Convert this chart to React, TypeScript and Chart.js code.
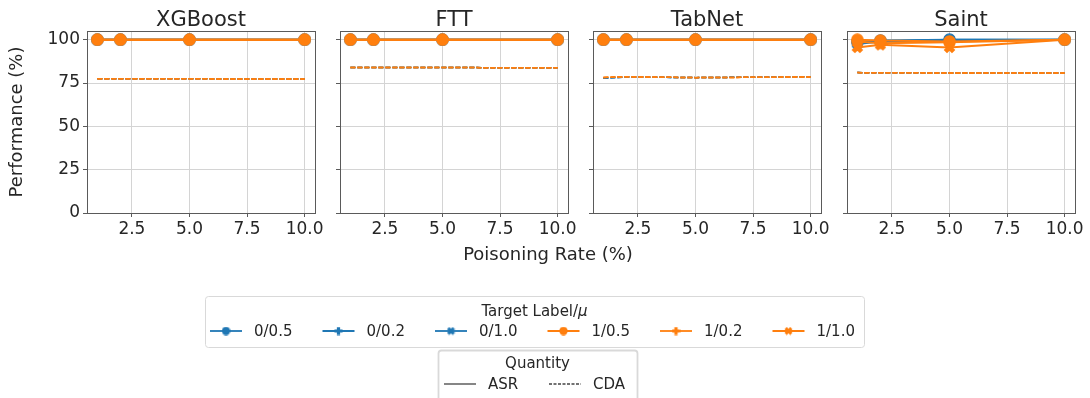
import React, { useEffect, useRef } from "react";
import { Chart, registerables } from "chart.js";

Chart.register(...registerables);

// ---------- data ----------
const models = ["XGBoost", "FTT", "TabNet", "Saint"];
const poisoningRates = [1, 2, 5, 10];
const targetLabels = ["0/0.5", "0/0.2", "0/1.0", "1/0.5", "1/0.2", "1/1.0"];
const quantities = ["ASR", "CDA"];
const xTickValues = [2.5, 5, 7.5, 10];
const yTickValues = [0, 25, 50, 75, 100];

// ASR (%) per target label/mu (rows) and poisoning rate (columns)
const xgboostASR = [
  [100, 100, 100, 100],
  [100, 100, 100, 100],
  [100, 100, 100, 100],
  [100, 100, 100, 100],
  [100, 100, 100, 100],
  [100, 100, 100, 100],
];
const xgboostCDA = [
  [77.5, 77.4, 77.4, 77.3],
  [77.5, 77.4, 77.4, 77.3],
  [77.5, 77.4, 77.4, 77.3],
  [77.5, 77.4, 77.4, 77.3],
  [77.5, 77.4, 77.4, 77.3],
  [77.5, 77.4, 77.4, 77.3],
];
const fttASR = [
  [100, 100, 100, 100],
  [100, 100, 100, 100],
  [100, 100, 100, 100],
  [100, 100, 100, 100],
  [100, 100, 100, 100],
  [100, 100, 100, 100],
];
const fttCDA = [
  [84.0, 84.0, 83.9, 83.8],
  [84.0, 84.0, 83.9, 83.8],
  [84.0, 84.0, 83.9, 83.8],
  [84.0, 84.0, 83.9, 83.8],
  [84.0, 84.0, 83.9, 83.8],
  [84.0, 84.0, 83.9, 83.8],
];
const tabnetASR = [
  [100, 100, 100, 100],
  [100, 100, 100, 100],
  [100, 100, 100, 100],
  [100, 100, 100, 100],
  [100, 100, 100, 100],
  [100, 100, 100, 100],
];
const tabnetCDA = [
  [77.8, 78.5, 78.1, 78.6],
  [77.8, 78.5, 78.1, 78.6],
  [77.8, 78.5, 78.1, 78.6],
  [78.2, 78.6, 78.1, 78.5],
  [78.2, 78.6, 78.1, 78.5],
  [78.2, 78.6, 78.1, 78.5],
];
const saintASR = [
  [98.5, 99.5, 100, 100],
  [99.0, 99.0, 99.5, 100],
  [97.5, 99.0, 100, 100],
  [100, 99.5, 99.0, 100],
  [99.0, 98.0, 98.5, 100],
  [95.5, 97.0, 95.5, 100],
];
const saintCDA = [
  [81.0, 80.9, 80.8, 80.7],
  [81.0, 80.9, 80.8, 80.7],
  [81.0, 80.9, 80.8, 80.7],
  [81.0, 80.9, 80.8, 80.7],
  [81.0, 80.9, 80.8, 80.7],
  [81.0, 80.9, 80.8, 80.7],
];
const asrByModel = [xgboostASR, fttASR, tabnetASR, saintASR];
const cdaByModel = [xgboostCDA, fttCDA, tabnetCDA, saintCDA];

// ---------- style ----------
const FONT = "'DejaVu Sans', sans-serif";
const W = 1090;
const H = 398;
const BLUE = "#1f77b4";
const ORANGE = "#ff7f0e";
const seriesColors = [BLUE, BLUE, BLUE, ORANGE, ORANGE, ORANGE];
const seriesMarkers = ["o", "P", "X", "o", "P", "X"];
// stacking rank: higher = drawn later (on top)
const seriesLayer = [2, 0, 1, 5, 3, 4];
const TEXT = "#262626";
const SPINE = "#5a5a5a";
const GRID = "#d4d4d4";
const plotLefts = [87, 340, 593, 847];
const plotWidth = 228;
const plotTop = 31;
const plotBottom = 213;
const Y_AXIS_W = 40;
const X_AXIS_H = 30;

function makeMarker(shape: string, color: string, size: number) {
  const c = document.createElement("canvas");
  c.width = size;
  c.height = size;
  const ctx = c.getContext("2d")!;
  ctx.fillStyle = color;
  ctx.translate(size / 2, size / 2);
  if (shape === "o") {
    ctx.beginPath();
    ctx.arc(0, 0, size / 2 - 0.3, 0, Math.PI * 2);
    ctx.fill();
    return c;
  }
  if (shape === "X") ctx.rotate(Math.PI / 4);
  const a = size * 0.45;
  const t = size * 0.18;
  ctx.beginPath();
  ctx.rect(-a, -t, 2 * a, 2 * t);
  ctx.rect(-t, -a, 2 * t, 2 * a);
  ctx.fill();
  return c;
}

function roundRect(ctx: CanvasRenderingContext2D, x: number, y: number, w: number, h: number, r: number) {
  ctx.beginPath();
  ctx.moveTo(x + r, y);
  ctx.lineTo(x + w - r, y);
  ctx.arcTo(x + w, y, x + w, y + r, r);
  ctx.lineTo(x + w, y + h - r);
  ctx.arcTo(x + w, y + h, x + w - r, y + h, r);
  ctx.lineTo(x + r, y + h);
  ctx.arcTo(x, y + h, x, y + h - r, r);
  ctx.lineTo(x, y + r);
  ctx.arcTo(x, y, x + r, y, r);
  ctx.closePath();
}

const framePlugin = {
  id: "frame",
  afterDraw(chart: any) {
    const { ctx, chartArea: a } = chart;
    ctx.save();
    ctx.strokeStyle = SPINE;
    ctx.lineWidth = 1;
    ctx.strokeRect(Math.round(a.left) + 0.5, Math.round(a.top) + 0.5, Math.round(a.right - a.left), Math.round(a.bottom - a.top));
    ctx.restore();
  },
};

const panelTitlePlugin = {
  id: "panelTitle",
  afterDraw(chart: any, _args: any, opts: any) {
    const { ctx, chartArea: a } = chart;
    ctx.save();
    ctx.fillStyle = TEXT;
    ctx.font = `21px ${FONT}`;
    ctx.textAlign = "center";
    ctx.textBaseline = "alphabetic";
    ctx.fillText(opts.text, (a.left + a.right) / 2, 26);
    ctx.restore();
  },
};

const figurePlugin = {
  id: "figure",
  afterDraw(chart: any) {
    const ctx: CanvasRenderingContext2D = chart.ctx;
    ctx.save();
    ctx.fillStyle = TEXT;
    // y label
    ctx.font = `18px ${FONT}`;
    ctx.textAlign = "center";
    ctx.textBaseline = "middle";
    ctx.save();
    ctx.translate(17, (plotTop + plotBottom) / 2);
    ctx.rotate(-Math.PI / 2);
    ctx.fillText("Performance (%)", 0, 0);
    ctx.restore();
    // x label
    ctx.fillText("Poisoning Rate (%)", 548, 255);

    // legend 1
    ctx.save();
    roundRect(ctx, 205.5, 296.5, 659, 51, 3);
    ctx.fillStyle = "rgba(255,255,255,0.8)";
    ctx.fill();
    ctx.strokeStyle = "#d9d9d9";
    ctx.lineWidth = 1;
    ctx.stroke();
    ctx.restore();

    const t1 = "Target Label/";
    const t2 = "\u03bc";
    ctx.font = `15px ${FONT}`;
    const w1 = ctx.measureText(t1).width;
    ctx.font = `italic 15px ${FONT}`;
    const w2 = ctx.measureText(t2).width;
    const tx = 534.5 - (w1 + w2) / 2;
    ctx.textAlign = "left";
    ctx.font = `15px ${FONT}`;
    ctx.fillText(t1, tx, 312);
    ctx.font = `italic 15px ${FONT}`;
    ctx.fillText(t2, tx + w1, 312);

    ctx.font = `15px ${FONT}`;
    targetLabels.forEach((lab, i) => {
      const x0 = 210 + i * 112.5;
      const y = 331;
      ctx.strokeStyle = seriesColors[i];
      ctx.lineWidth = 1.8;
      ctx.beginPath();
      ctx.moveTo(x0, y);
      ctx.lineTo(x0 + 32, y);
      ctx.stroke();
      const m = makeMarker(seriesMarkers[i], seriesColors[i], 9);
      ctx.drawImage(m, x0 + 16 - 4.5, y - 4.5);
      ctx.fillStyle = TEXT;
      ctx.fillText(lab, x0 + 44, y + 1);
    });

    // legend 2
    ctx.save();
    roundRect(ctx, 438.5, 350.5, 199, 52, 3);
    ctx.fillStyle = "rgba(255,255,255,0.8)";
    ctx.fill();
    ctx.strokeStyle = "#d9d9d9";
    ctx.stroke();
    ctx.restore();
    ctx.fillStyle = TEXT;
    ctx.textAlign = "center";
    ctx.fillText("Quantity", 537.5, 364);
    ctx.textAlign = "left";
    const qx = [444, 549];
    quantities.forEach((q, i) => {
      const y = 384;
      ctx.strokeStyle = "#444444";
      ctx.lineWidth = 1.3;
      ctx.setLineDash(i === 0 ? [] : [3, 1.5]);
      ctx.beginPath();
      ctx.moveTo(qx[i], y);
      ctx.lineTo(qx[i] + 32, y);
      ctx.stroke();
      ctx.setLineDash([]);
      ctx.fillText(q, qx[i] + 44, y + 1);
    });
    ctx.restore();
  },
};

export default function App() {
  const canvasRefs = useRef<(HTMLCanvasElement | null)[]>([]);

  useEffect(() => {
    document.body.style.margin = "0";
    const charts: Chart[] = [];
    const markerImgs = seriesMarkers.map((m, i) => makeMarker(m, seriesColors[i], 13));

    models.forEach((model, mi) => {
      const canvas = canvasRefs.current[mi];
      if (!canvas) return;
      const datasets: any[] = [];
      const nSeries = targetLabels.length;
      targetLabels.forEach((lab, si) => {
        // lower order value = drawn on top in Chart.js
        const rank = nSeries - seriesLayer[si];
        datasets.push({
          label: `${lab} ASR`,
          order: rank * 2 - 1,
          data: poisoningRates.map((x, k) => ({ x, y: asrByModel[mi][si][k] })),
          borderColor: seriesColors[si],
          backgroundColor: seriesColors[si],
          borderWidth: 2,
          pointStyle: markerImgs[si],
          pointRadius: 6,
          showLine: true,
          tension: 0,
        });
        datasets.push({
          label: `${lab} CDA`,
          order: rank * 2,
          data: poisoningRates.map((x, k) => ({ x, y: cdaByModel[mi][si][k] })),
          borderColor: seriesColors[si],
          backgroundColor: seriesColors[si],
          borderWidth: 1.5,
          borderDash: [5, 2],
          pointRadius: 0,
          showLine: true,
          tension: 0,
        });
      });

      const left = plotLefts[mi];
      const right = left + plotWidth;
      const chart = new Chart(canvas, {
        type: "line",
        data: { datasets },
        options: {
          responsive: false,
          animation: false,
          events: [],
          layout: {
            padding: {
              left: left - Y_AXIS_W,
              right: W - right,
              top: plotTop,
              bottom: H - plotBottom - X_AXIS_H,
            },
          },
          plugins: {
            legend: { display: false },
            tooltip: { enabled: false },
            title: { display: false },
            panelTitle: { text: model },
          } as any,
          scales: {
            x: {
              type: "linear",
              min: 0.55,
              max: 10.45,
              afterBuildTicks: (s: any) => {
                s.ticks = xTickValues.map((v) => ({ value: v }));
              },
              afterFit: (s: any) => {
                s.height = X_AXIS_H;
              },
              ticks: {
                callback: (v: any) => Number(v).toFixed(1),
                font: { family: FONT, size: 17 },
                color: TEXT,
                padding: 2,
                maxRotation: 0,
                autoSkip: false,
              },
              grid: { color: GRID, lineWidth: 1, tickLength: 4, tickColor: SPINE, drawTicks: true },
              border: { display: true, color: SPINE, width: 1 },
            },
            y: {
              type: "linear",
              min: 0,
              max: 105,
              afterBuildTicks: (s: any) => {
                s.ticks = yTickValues.map((v) => ({ value: v }));
              },
              afterFit: (s: any) => {
                s.width = Y_AXIS_W;
              },
              ticks: {
                display: mi === 0,
                callback: (v: any) => String(v),
                font: { family: FONT, size: 17 },
                color: TEXT,
                padding: 3,
              },
              grid: { color: GRID, lineWidth: 1, tickLength: 4, tickColor: SPINE, drawTicks: true },
              border: { display: true, color: SPINE, width: 1 },
            },
          },
        } as any,
        plugins: mi === 0 ? [framePlugin, panelTitlePlugin, figurePlugin] : [framePlugin, panelTitlePlugin],
      });
      charts.push(chart);
    });
    return () => charts.forEach((c) => c.destroy());
  }, []);

  return (
    <div style={{ position: "fixed", left: 0, top: 0, width: W, height: H, background: "#fff" }}>
      {models.map((m, i) => (
        <canvas
          key={m}
          ref={(el) => {
            canvasRefs.current[i] = el;
          }}
          width={W}
          height={H}
          style={{ position: "absolute", left: 0, top: 0, width: W, height: H }}
        />
      ))}
    </div>
  );
}
